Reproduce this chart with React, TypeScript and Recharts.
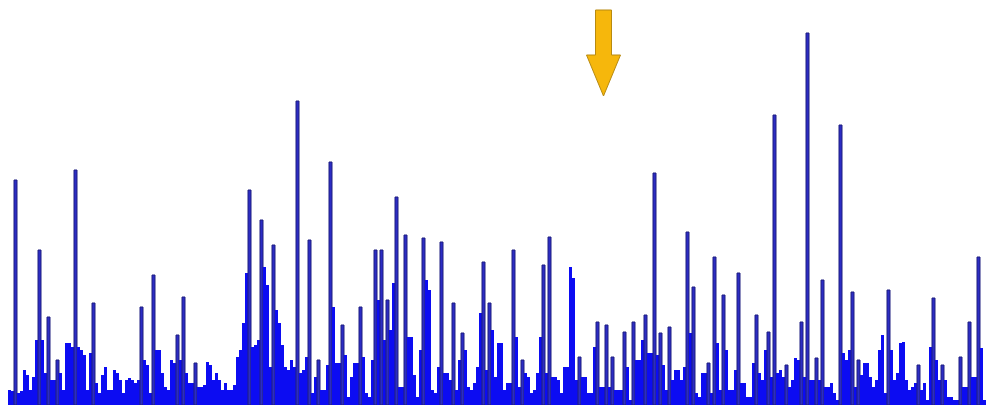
import { Bar, BarChart, Cell, ReferenceDot, XAxis, YAxis } from "recharts";

// peak heights per bin (px above the baseline)
const heights = [
  15, 14, 225, 12, 14, 35, 30, 15, 28, 65,
  155, 65, 32, 88, 25, 25, 45, 32, 15, 62,
  62, 58, 235, 58, 55, 50, 15, 52, 102, 22,
  12, 30, 38, 15, 15, 35, 32, 25, 12, 25,
  27, 25, 22, 25, 98, 45, 40, 12, 130, 55,
  55, 32, 18, 15, 45, 42, 70, 45, 108, 32,
  22, 22, 42, 18, 18, 20, 43, 40, 25, 32,
  25, 15, 22, 15, 15, 20, 48, 55, 82, 132,
  215, 58, 60, 65, 185, 138, 120, 38, 160, 95,
  82, 60, 38, 35, 45, 38, 304, 32, 35, 48,
  165, 12, 28, 45, 15, 15, 40, 243, 98, 42,
  42, 80, 50, 8, 28, 42, 42, 98, 48, 12,
  8, 45, 155, 105, 155, 65, 105, 75, 122, 208,
  18, 18, 170, 68, 68, 30, 8, 55, 167, 125,
  115, 15, 12, 38, 163, 32, 32, 25, 102, 15,
  45, 72, 55, 18, 15, 22, 38, 92, 143, 35,
  102, 75, 28, 62, 62, 15, 22, 22, 155, 68,
  18, 45, 32, 28, 12, 15, 32, 68, 140, 32,
  168, 28, 28, 25, 12, 38, 38, 138, 127, 25,
  48, 28, 28, 12, 12, 58, 83, 18, 18, 80,
  18, 48, 15, 15, 15, 73, 38, 5, 83, 45,
  45, 65, 90, 52, 52, 232, 50, 72, 40, 15,
  78, 25, 35, 35, 25, 38, 173, 72, 118, 12,
  8, 32, 32, 42, 12, 148, 62, 15, 110, 55,
  15, 15, 35, 132, 22, 22, 8, 8, 42, 90,
  32, 25, 55, 73, 28, 290, 32, 35, 28, 40,
  18, 25, 47, 45, 83, 28, 372, 25, 25, 47,
  25, 125, 18, 18, 22, 12, 5, 280, 52, 45,
  55, 113, 18, 45, 30, 42, 42, 28, 18, 25,
  55, 70, 12, 115, 55, 25, 32, 62, 63, 25,
  15, 18, 22, 40, 15, 22, 5, 58, 107, 45,
  25, 40, 25, 8, 8, 5, 5, 48, 18, 18,
  83, 28, 28, 148, 57, 5,
];

const bins = heights.map((_, i) => i);

// the marked bin and where the arrow tip sits
const arrowBin = 198;
const arrowTip = 309;

const data = bins.map((b) => ({ bin: b, h: heights[b] }));

function isSpike(i: number) {
  const v = heights[i];
  const prev = heights[i - 1] ?? 0;
  const next = heights[i + 1] ?? 0;
  return v > 35 && v > Math.max(prev, next) * 1.3;
}

function Arrow(props: any) {
  const { cx, cy } = props;
  if (cx == null || cy == null) return null;
  const pts = [
    [cx, cy],
    [cx - 17, cy - 41],
    [cx - 8, cy - 41],
    [cx - 8, cy - 86],
    [cx + 8, cy - 86],
    [cx + 8, cy - 41],
    [cx + 17, cy - 41],
  ]
    .map((p) => p.join(","))
    .join(" ");
  return <polygon points={pts} fill="#F6B70C" stroke="#B88A10" strokeWidth={1} />;
}

export default function App() {
  return (
    <div style={{ position: "absolute", left: 0, top: 0, width: 989, height: 405, background: "#fff" }}>
      <BarChart
        width={989}
        height={405}
        data={data}
        margin={{ top: 0, right: 3, bottom: 0, left: 8 }}
        barCategoryGap={0}
        barGap={0}
      >
        <XAxis dataKey="bin" hide />
        <YAxis hide domain={[0, 405]} />
        <Bar dataKey="h" isAnimationActive={false}>
          {data.map((d) =>
            isSpike(d.bin) ? (
              <Cell key={d.bin} fill="#2c2cc4" stroke="#1f1f80" strokeWidth={1} />
            ) : (
              <Cell key={d.bin} fill="#0c0cf2" />
            )
          )}
        </Bar>
        <ReferenceDot x={arrowBin} y={arrowTip} shape={<Arrow />} />
      </BarChart>
    </div>
  );
}
